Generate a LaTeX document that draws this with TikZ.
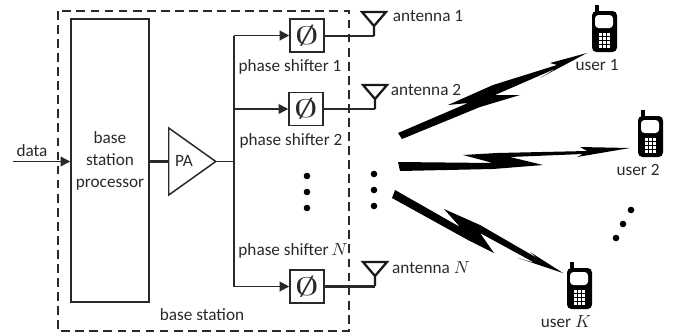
\documentclass[tikz,border=0pt]{standalone}
\usepackage{fontspec}
\setmainfont{Carlito}
\usetikzlibrary{arrows.meta,shapes.geometric}
\definecolor{inkgray}{HTML}{2B2829}
\tikzset{
	lbl/.style={text=inkgray, font=\fontsize{9.8}{11}\selectfont, inner sep=0pt},
	thinline/.style={line width=0.85pt, color=inkgray},
	feedline/.style={line width=1.7pt, color=inkgray},
	boxline/.style={draw=inkgray, line width=0.85pt},
	arrowline/.style={thinline, -{Triangle[length=5.5pt,width=5.5pt]}},
	shifter/.style={boxline, minimum width=0.68cm, minimum height=0.66cm, inner sep=0pt, font=\Large, text=inkgray},
}
\def\antenna(#1){\draw[line width=1.3pt, color=black!90, line join=miter] (#1) -- ++(0,-10) -- ++(-12,-14) -- ++(24,0) -- ++(-12,14);}
\def\dotmark(#1){\fill[black] (#1) circle (3.3);}
\def\phone(#1){
	\begin{scope}[shift={(#1)}]
		\fill[black] (3,1) rectangle (6.5,-6);
		\fill[black, rounded corners=2.5pt] (0,0) rectangle (25,41);
		\fill[white, rounded corners=2pt] (3,4) rectangle (21,17);
		\foreach \col in {0,1,2} \foreach \row in {0,1,2,3}
			\fill[white] (7+4*\col,22+4*\row) rectangle ++(3,3);
	\end{scope}
}

\begin{document}
\begin{tikzpicture}[x=0.02cm, y=-0.02cm]
			%%%%% START %%%%%
			\useasboundingbox (0,0) rectangle (678,335);
			
			\draw[thinline, dashed, dash pattern=on 5pt off 3pt] (58,11) rectangle (349,331);
			
			\node[boxline, minimum width=1.56cm, minimum height=5.66cm, inner sep=0pt] (proc) at (110,160.5) {};
			\node[lbl, align=center] (proctext) at (110,161) {base\\[1.5pt]station\\[1.5pt]processor};
			\coordinate (datain) at (13,161.5);
			\node[lbl] (datalabel) at (32,151) {data};
			\draw[arrowline] (datain) -- (datain -| proc.west);
			
			\node[boxline, isosceles triangle, isosceles triangle apex angle=71, isosceles triangle stretches, minimum width=1.34cm, minimum height=0.94cm, inner sep=0pt, anchor=lower side] (pa) at (168,161.5) {};
			\node[lbl] (patext) at (184,161) {PA};
			\draw[feedline] (proc.east |- pa.lower side) -- (pa.lower side);
			
			\coordinate (bus) at (234,161.5);
			\draw[line width=1.1pt, color=inkgray] (pa.apex) -- (bus);
			
			\node[shifter] (ps1) at (307,35.5) {\scalebox{1.9}[1]{$\emptyset$}};
			\node[shifter] (ps2) at (306,109) {\scalebox{1.9}[1]{$\emptyset$}};
			\node[shifter] (psN) at (307,286.5) {\scalebox{1.9}[1]{$\emptyset$}};
			
			\draw[arrowline, line width=1.1pt] (bus |- ps1.west) -- (ps1.west);
			\draw[arrowline] (bus |- ps2.west) -- (ps2.west);
			\draw[arrowline, line width=1.1pt] (bus |- psN.west) -- (psN.west);
			\draw[line width=1.1pt, color=inkgray] (bus |- ps1.west) -- (bus |- psN.west);
			
			\coordinate (ant1) at (374,36);
			\coordinate (ant2) at (375,109);
			\coordinate (antN) at (375,286);
			\draw[feedline] (ps1.east |- ant1) -- (ant1);
			\draw[feedline] (ps2.east |- ant2) -- (ant2);
			\draw[feedline] (psN.east |- antN) -- (antN);
			\antenna(ant1)
			\antenna(ant2)
			\antenna(antN)
			
			\node[lbl] (ps1label) at (290,67) {phase shifter 1};
			\node[lbl] (ps2label) at (291,141) {phase shifter 2};
			\node[lbl] (psNlabel) at (293,251) {phase shifter\,$N$};
			\node[lbl] (ant1label) at (428,16) {antenna 1};
			\node[lbl] (ant2label) at (426,90) {antenna 2};
			\node[lbl] (antNlabel) at (431,268) {antenna $N$};
			\node[lbl] (stationlabel) at (202,315) {base station};
			
			\dotmark(307,176)
			\dotmark(307,192)
			\dotmark(307,208)
			\dotmark(374,174)
			\dotmark(374,190)
			\dotmark(374,206)
			\dotmark(631,210)
			\dotmark(623,224)
			\dotmark(616,238)
			
			\fill[black] (398,133) -- (468,103) -- (448,105) -- (493,85) -- (557,65) -- (550,63) -- (587,53) -- (540,78) -- (557,68) -- (495,95) -- (520,95) -- (480,107) -- (402,139) -- cycle;
			\fill[black] (398,162) -- (493,163) -- (463,155) -- (497,153) -- (587,151) -- (580,147) -- (630,148) -- (577,157) -- (583,154) -- (510,157) -- (543,165) -- (493,169) -- (400,171) -- cycle;
			\fill[black] (395,190) -- (460,227) -- (444,209) -- (480,225) -- (537,258) -- (530,252) -- (563,273) -- (518,258) -- (535,263) -- (480,233) -- (494,253) -- (468,240) -- (392,198) -- cycle;
			
			\phone(592,11)
			\phone(638,116)
			\phone(567,268)
			
			\node[lbl] (user1) at (597,65) {user 1};
			\node[lbl] (user2) at (638,170) {user 2};
			\node[lbl] (userK) at (566,322) {user $K$};
			%%%%% END %%%%%
		\end{tikzpicture}
\end{document}
